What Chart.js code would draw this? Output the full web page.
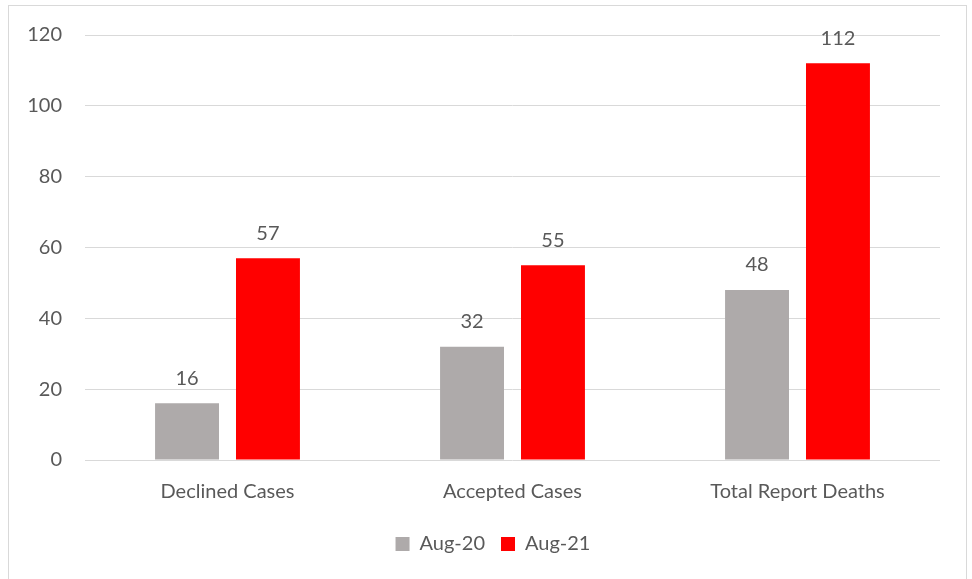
<!DOCTYPE html>
<html>
<head>
<meta charset="utf-8">
<script src="https://cdn.jsdelivr.net/npm/chart.js@4"></script>
<style>
  html, body { margin: 0; padding: 0; background: #fff; overflow: hidden; width: 972px; height: 579px; }
  #frame { position: absolute; left: 8px; top: 5px; width: 959px; height: 600px; border: 1.5px solid #d9d9d9; box-sizing: border-box; }
  #c { position: absolute; left: 0; top: 0; }
</style>
</head>
<body>
<div id="frame"></div>
<canvas id="c" width="972" height="579"></canvas>
<script>
const categories = ["Declined Cases", "Accepted Cases", "Total Report Deaths"];
const seriesNames = ["Aug-20", "Aug-21"];
const aug20 = [16, 32, 48];
const aug21 = [57, 55, 112];
const yTicks = [0, 20, 40, 60, 80, 100, 120];

const FONT = "Lato, 'Open Sans', sans-serif";
const TEXT = "#595959";

const dataLabels = {
  id: 'dataLabels',
  afterDatasetsDraw(chart) {
    const ctx = chart.ctx;
    ctx.save();
    ctx.font = "20px " + FONT;
    ctx.fillStyle = TEXT;
    ctx.textAlign = 'center';
    ctx.textBaseline = 'middle';
    chart.data.datasets.forEach((ds, i) => {
      const meta = chart.getDatasetMeta(i);
      meta.data.forEach((el, j) => {
        ctx.fillText(String(ds.data[j]), el.x, el.y - 25);
      });
    });
    ctx.restore();
  }
};

const shiftLegend = {
  id: 'shiftLegend',
  afterLayout(chart) {
    if (chart.legend) { chart.legend.left += 23; chart.legend.right += 23; }
  }
};

new Chart(document.getElementById('c'), {
  type: 'bar',
  data: {
    labels: categories,
    datasets: [
      { label: seriesNames[0], data: aug20, backgroundColor: '#AEAAAA', categoryPercentage: 0.568, barPercentage: 0.79 },
      { label: seriesNames[1], data: aug21, backgroundColor: '#FF0000', categoryPercentage: 0.568, barPercentage: 0.79 }
    ]
  },
  options: {
    responsive: false,
    animation: false,
    devicePixelRatio: 1,
    layout: { padding: { left: 0, right: 32, top: 35, bottom: 15 } },
    plugins: {
      tooltip: { enabled: false },
      legend: {
        position: 'bottom',
        labels: {
          boxWidth: 14, boxHeight: 14, padding: 16,
          color: TEXT,
          font: { family: FONT, size: 20 }
        }
      }
    },
    scales: {
      x: {
        grid: { display: false, drawTicks: false },
        border: { display: false },
        ticks: { color: TEXT, font: { family: FONT, size: 20 }, padding: 20 },
        afterFit(scale) { scale.height = 58; }
      },
      y: {
        min: 0, max: 120,
        afterBuildTicks(scale) { scale.ticks = yTicks.map(v => ({ value: v })); },
        grid: { color: '#d9d9d9', lineWidth: 1, drawTicks: false },
        border: { display: false },
        ticks: { color: TEXT, font: { family: FONT, size: 20 }, padding: 23 },
        afterFit(scale) { scale.width = 85; }
      }
    }
  },
  plugins: [dataLabels, shiftLegend]
});
</script>
</body>
</html>
